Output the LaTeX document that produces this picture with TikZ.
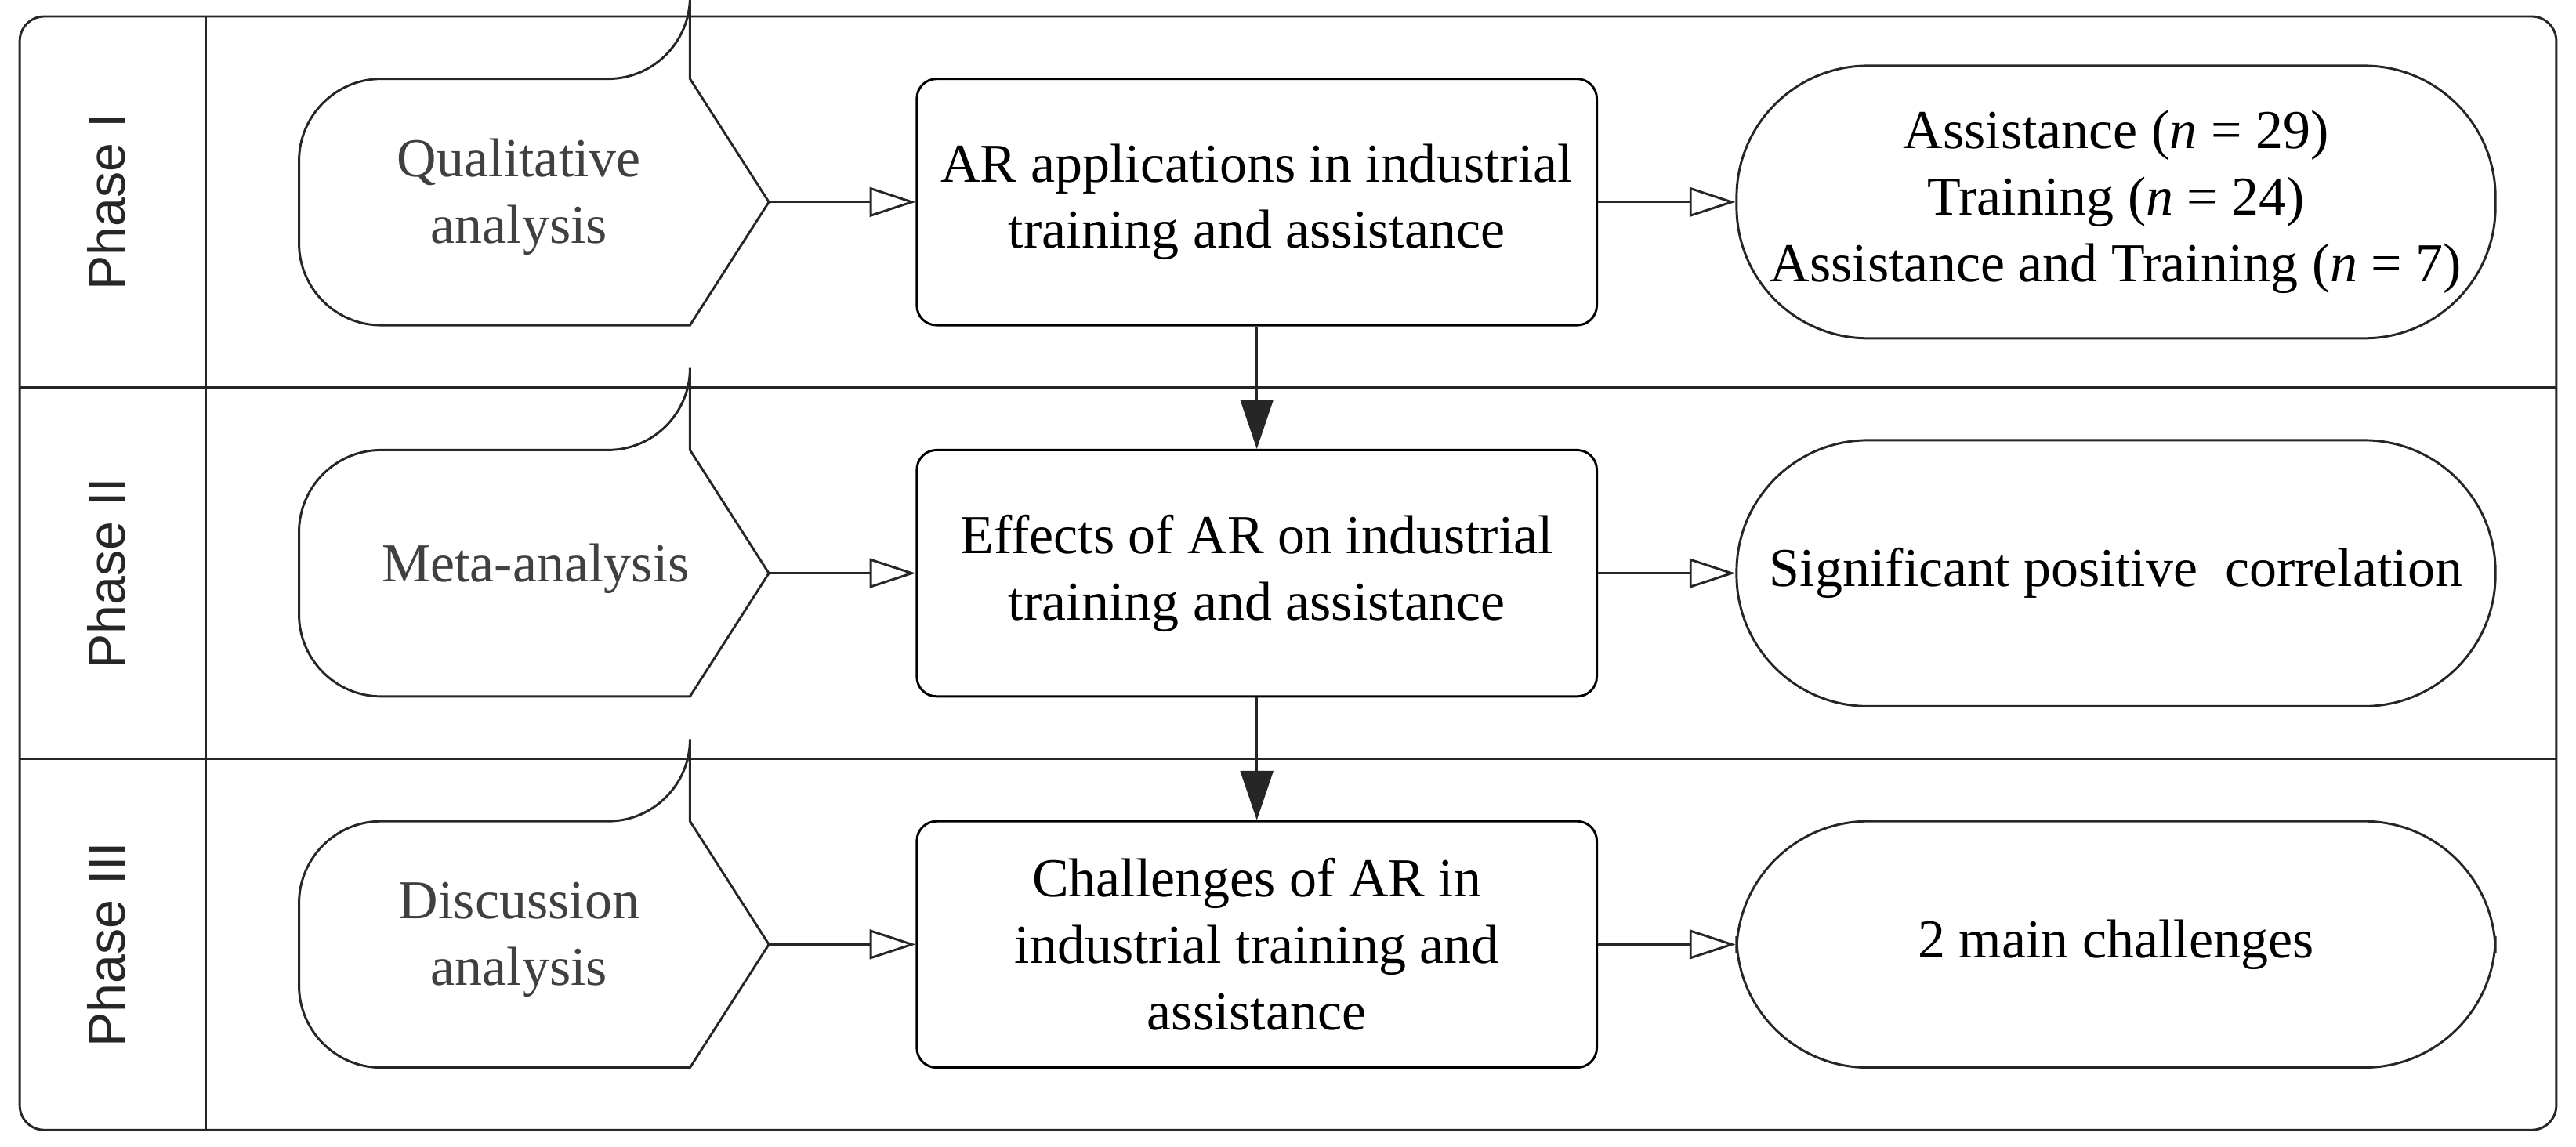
\documentclass[tikz,border=0pt]{standalone}
\usepackage{fontspec}
\setmainfont{Liberation Serif}
\newfontfamily\phfont{Liberation Sans}
\usetikzlibrary{arrows.meta}
\begin{document}
\begin{tikzpicture}[x=0.02cm,y=-0.02cm,
  line width=0.8pt, draw=black!85,
  box/.style={draw=black, rounded corners=0.24cm, minimum width=8.28cm, minimum height=3cm, align=center, font=\fontsize{19}{23}\selectfont},
  stad/.style={draw=black!85, rounded corners=1.6cm, minimum width=9.24cm, minimum height=#1, align=center, font=\fontsize{19}{23}\selectfont},
  ltxt/.style={align=center, text=black!75, font=\fontsize{19}{23}\selectfont},
  ph/.style={rotate=90, font=\phfont\fontsize{18}{20}\selectfont, text=black!85},
  harr/.style={-{Triangle[open, length=0.56cm, width=0.36cm]}, black!85},
  varr/.style={-{Triangle[length=0.6cm, width=0.4cm]}, black!85}]
\useasboundingbox (0,0) rectangle (1568,698);
\draw[rounded corners=0.3cm] (12,10) rectangle (1556,688);
\draw (125,10) -- (125,688);
\draw (12,236) -- (1556,236);
\draw (12,462) -- (1556,462);
\node[ph] (p1) at (65,123) {Phase I};
\node[ph] (p2) at (65,349) {Phase II};
\node[ph] (p3) at (65,575) {Phase III};
\foreach \y/\n in {123/a,349/b,575/c}{
  \draw (420,\y-75) -- (468,\y) -- (420,\y+75) {[rounded corners=1cm] -- (182,\y+75) -- (182,\y-75) -- (420,\y-75)} -- cycle;
  \coordinate (tip\n) at (468,\y);
}
\node[ltxt] (la) at (316,120) {Qualitative\\analysis};
\node[ltxt] (lb) at (326,346) {Meta-analysis};
\node[ltxt] (lc) at (316,572) {Discussion\\analysis};
\node[box] (ma) at (765,123) {AR applications in industrial\\training and assistance};
\node[box] (mb) at (765,349) {Effects of AR on industrial\\training and assistance};
\node[box] (mc) at (765,575) {Challenges of AR in\\industrial training and\\assistance};
\node[stad=3.32cm] (ra) at (1288,123) {Assistance (\textit{n} = 29)\\Training (\textit{n} = 24)\\Assistance and Training (\textit{n} = 7)};
\node[stad=3.24cm] (rb) at (1288,349) {Significant positive\ \ correlation};
\node[stad=3cm] (rc) at (1288,575) {2 main challenges};
\draw[harr] (tipa) -- (ma.west);
\draw[harr] (tipb) -- (mb.west);
\draw[harr] (tipc) -- (mc.west);
\draw[harr] (ma.east) -- (ra.west);
\draw[harr] (mb.east) -- (rb.west);
\draw[harr] (mc.east) -- (rc.west);
\draw[varr] (ma.south) -- (mb.north);
\draw[varr] (mb.south) -- (mc.north);
\end{tikzpicture}
\end{document}
